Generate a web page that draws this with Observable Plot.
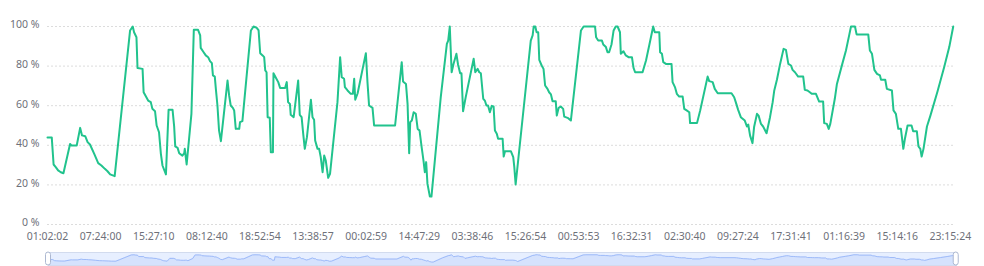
<!DOCTYPE html>
<html><head><meta charset="utf-8">
<script src="https://cdn.jsdelivr.net/npm/d3@7"></script>
<script src="https://cdn.jsdelivr.net/npm/@observablehq/plot@0.6"></script>
<style>
body{margin:0;background:#fff;}
#wrap{position:relative;width:984px;height:266px;overflow:hidden;background:#fff;}
#main{position:absolute;left:0;top:0;}
#zoom{position:absolute;left:0;top:250px;}
</style></head><body><div id="wrap"><div id="main"></div><div id="zoom"></div></div>
<script>
const tickLabels = ["01:02:02","07:24:00","15:27:10","08:12:40","18:52:54","13:38:57","00:02:59","14:47:29","03:38:46","15:26:54","00:53:53","16:32:31","02:30:40","09:27:24","17:31:41","01:16:39","15:14:16","23:15:24"];
const labelStep = 20;
const idx = [0,1.6,2.3,3.1,4.0,5.0,6.0,8.5,9.0,11.0,12.3,13.0,14.2,15.1,16.0,17.6,19.1,20.3,21.6,22.6,23.6,25.3,31.1,32.1,32.6,33.5,33.9,35.8,36.2,37.9,38.9,39.5,40.5,41.1,42.0,42.7,43.3,44.6,45.6,47.1,47.7,48.1,49.0,49.6,50.8,51.5,51.7,52.4,54.2,55.1,56.7,57.5,57.7,58.8,59.6,60.5,61.2,61.9,62.3,63.0,63.4,64.0,64.6,65.3,67.8,68.4,69.0,69.8,70.3,70.9,72.2,72.5,73.4,76.6,77.6,78.8,79.5,80.1,81.0,81.6,82.0,82.5,82.9,83.7,84.1,84.9,85.1,86.0,86.9,87.6,89.5,90.1,90.6,91.3,91.6,92.7,94.4,95.0,95.7,96.3,96.9,97.7,99.2,99.8,100.4,100.8,101.7,102.3,102.9,103.6,104.2,104.8,105.7,106.4,109.2,110.2,110.8,111.7,112.0,113.0,114.2,115.0,115.5,115.9,116.8,118.6,119.9,120.5,121.1,122.4,123.0,130.9,133.4,133.9,135.0,135.6,136.2,136.6,137.2,137.9,138.7,139.4,140.1,140.9,141.6,142.1,142.6,143.1,144.0,144.6,148.1,150.4,150.9,151.5,152.2,152.9,154.0,154.6,155.4,155.9,156.5,157.5,160.5,161.1,162.0,162.6,163.2,164.1,164.7,165.3,165.9,166.6,167.3,168.0,168.5,169.2,169.7,171.4,171.8,172.3,174.5,175.4,175.8,176.3,182.0,182.7,183.1,183.7,184.2,184.8,185.2,186.1,186.8,187.4,188.3,188.9,189.6,190.2,191.4,191.8,192.5,193.3,194.2,194.6,196.1,197.1,200.9,201.9,206.2,206.6,207.4,208.8,209.3,210.3,210.9,211.5,212.4,213.2,214.0,214.7,215.6,215.9,216.9,217.8,218.8,220.1,220.7,221.3,224.1,225.4,226.6,228.1,228.7,230.4,230.7,231.4,231.9,232.9,235.0,235.4,236.3,237.0,237.9,239.2,239.8,240.7,241.7,242.0,244.6,245.8,248.6,249.2,250.5,251.3,252.4,257.6,258.6,259.2,260.1,261.1,262.6,263.4,263.9,264.6,265.5,266.1,267.2,267.8,268.7,269.5,270.8,272.1,273.1,273.7,274.7,275.9,277.2,278.1,279.0,280.0,280.6,281.5,282.7,284.6,285.2,286.2,287.1,287.8,289.4,290.6,292.1,292.5,293.5,294.2,294.8,296.5,297.3,299.4,300.7,301.9,302.6,304.1,304.7,309.1,309.7,310.5,311.4,312.4,313.5,313.9,315.5,316.1,318.0,318.6,319.5,320.4,321.4,322.3,322.9,323.9,325.4,326.0,327.4,328.0,328.7,329.2,329.9,331.2,332.5,335.2,337.7,339.6,341.1];
const pct = [44,44,30.3,29,27.3,26.4,25.9,40.7,39.9,39.9,48.8,45,44.6,41.6,40.4,35.7,31,29.8,28.1,26.9,25.3,24.4,98,100,97.1,94.6,79,78.6,66.8,62.6,61.8,58.4,57.2,50,46.6,35.7,29.8,25.3,57.9,57.9,49.5,39.4,38.7,36,34.8,36,38.2,30.3,55.9,98.3,98.3,95.5,89.2,87,85.4,84.5,82.5,81.5,75.3,74.7,68.5,60.1,47.5,42.1,72.7,65.2,60.1,58.9,57.6,48.3,48.3,51.7,52.2,98,100,99.3,98,86.5,85.4,84.5,77.8,76.9,54.2,53.9,36.5,36.5,76.4,74.1,71.9,69,69,71.9,61.8,60.9,55.4,54.2,72.7,55.4,54.2,45.8,38.2,44.1,63,54.2,52.9,42.4,38.2,38.2,34,26.4,34.8,32.3,23.6,25.6,61.8,84.5,74.4,73.6,69.4,67.7,66,66,73.6,63,66.3,78.1,86.5,71.9,60.1,58.9,50,50,82,72.2,71,60.9,36,51.7,52.5,56.7,55.9,48.3,47.5,39.1,32.3,26.4,31.5,20.5,14.1,14.1,64.3,91.2,92.9,100,76.9,81.1,86.2,80.8,76.4,76.4,57.2,64.3,83.7,76.9,78.6,76.9,76.4,63.5,62.6,60.1,60.1,56.7,59.9,59.6,47.5,45.8,43.3,43.3,34.3,37,37,34,29,20.2,92.9,95.5,100,100,97.1,97.1,83.2,80.3,78.6,70.2,68.5,66.8,65.7,62.3,62.3,55,58.9,59.6,58.4,54.5,53.7,52.5,98,100,100,94.6,92.9,92.9,90.9,89.6,87,87,90.9,98,100,100,97.1,86.2,87.5,85.4,84.5,84.5,79.1,76.9,76.9,82.8,90.4,100,97.1,97.1,87,86.2,82,81.1,81.1,71.9,69.4,66,64.6,64.6,58.4,57.6,56.7,51.2,51.2,57.6,74.7,72.4,71.9,68.5,66.3,66.3,64.3,61.8,57.9,54.2,52.5,49.5,50.5,44.9,41.1,49.2,55.9,55,50.8,49.5,46.1,54.2,61.8,67.7,73.1,81.1,88.7,88.2,81.1,80.3,78.1,76.9,74.7,74.7,68,67.7,66.8,66,66,62.1,62.1,51.2,50.8,48.3,50.8,63.5,71,81.5,87.9,95.5,100,100,96,96,87.9,86.2,78.1,76.1,75.3,73.1,73.1,68.5,67.7,57.6,55.9,48.3,48.3,38.2,43.3,50,50,47.1,47.1,39.4,38.2,34.3,38.2,49.5,55,67.3,79.5,89.6,100];
const yTicks = [0,20,40,60,80,100];

const data = idx.map((x, i) => ({x, y: pct[i]}));
const xMax = 341.2;
const tickIdx = tickLabels.map((_, i) => i * labelStep);
const font = "'Noto Sans', 'Open Sans', sans-serif";

const main = Plot.plot({
  width: 984, height: 246,
  marginLeft: 47, marginRight: 31, marginTop: 26, marginBottom: 22,
  style: {fontFamily: font, fontSize: "10.5px", color: "#6e7079", background: "#fff"},
  x: {domain: [0, xMax], label: null},
  y: {domain: [0, 100], label: null},
  marks: [
    Plot.gridY(yTicks, {stroke: "#dcdcdc", strokeOpacity: 1, strokeDasharray: "2,2"}),
    Plot.axisY(yTicks, {tickFormat: d => d + " %", tickSize: 0, tickPadding: 8, dy: -1.5, label: null}),
    Plot.axisX(tickIdx, {tickFormat: d => tickLabels[Math.round(d / labelStep)], tickSize: 0, tickPadding: 8, label: null}),
    Plot.line(data, {x: "x", y: "y", stroke: "#21c38d", strokeWidth: 2, strokeLinejoin: "round"})
  ]
});
document.getElementById("main").append(main);

const ends = [{x: idx[0]}, {x: idx[idx.length - 1]}];
const zoom = Plot.plot({
  width: 984, height: 16,
  marginLeft: 48, marginRight: 28, marginTop: 2, marginBottom: 1,
  x: {domain: [0, xMax], axis: null},
  y: {domain: [-26, 127], axis: null},
  marks: [
    Plot.frame({fill: "rgba(135,175,255,0.2)", stroke: "#d2dbee"}),
    Plot.areaY(data, {x: "x", y1: -26, y2: "y", fill: "#8fb0f7", fillOpacity: 0.2}),
    Plot.line(data, {x: "x", y: "y", stroke: "#8fb0f7", strokeWidth: 0.8}),
    Plot.rect(ends, {x1: "x", x2: "x", y1: -26, y2: 127, insetLeft: -2.5, insetRight: -2.5, fill: "#fff", stroke: "#acb8d1", rx: 2.5})
  ]
});
document.getElementById("zoom").append(zoom);
</script></body></html>
